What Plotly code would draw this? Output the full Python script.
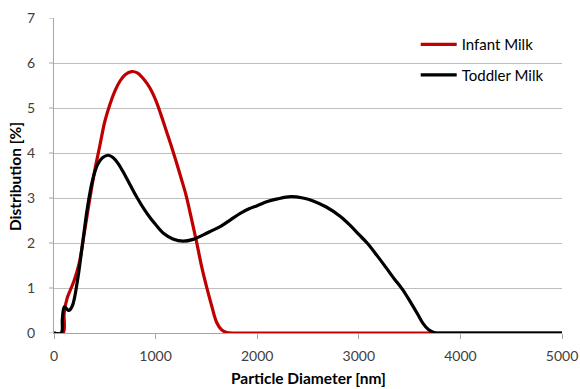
import plotly.graph_objects as go

infant_x = [0, 90, 100, 130, 160, 200, 250, 300, 350, 400, 450, 500, 550, 600, 650, 700, 764, 820, 880, 940, 1000, 1050, 1100, 1150, 1200, 1250, 1300, 1350, 1400, 1450, 1500, 1550, 1600, 1650, 1700, 1750, 2000, 3000, 4000, 5000]
infant_y = [0, 0, 0.45, 0.78, 0.95, 1.18, 1.57, 2.25, 2.95, 3.6, 4.15, 4.7, 5.08, 5.38, 5.6, 5.74, 5.81, 5.78, 5.65, 5.46, 5.18, 4.87, 4.53, 4.19, 3.83, 3.45, 3.06, 2.57, 2.06, 1.51, 1.04, 0.62, 0.24, 0.07, 0.01, 0, 0, 0, 0, 0]

toddler_x = [0, 72, 82, 100, 120, 145, 180, 230, 280, 330, 380, 430, 480, 534, 580, 630, 700, 757, 820, 890, 950, 1000, 1080, 1170, 1270, 1370, 1470, 1560, 1640, 1740, 1833, 1920, 2000, 2100, 2200, 2328, 2450, 2557, 2680, 2819, 2920, 3000, 3082, 3180, 3279, 3350, 3426, 3500, 3574, 3630, 3688, 3740, 3766, 4000, 4500, 5000]
toddler_y = [0, 0, 0.3, 0.58, 0.55, 0.5, 0.6, 1.15, 1.97, 2.8, 3.4, 3.75, 3.9, 3.95, 3.9, 3.77, 3.5, 3.26, 3.0, 2.74, 2.55, 2.41, 2.21, 2.09, 2.04, 2.08, 2.18, 2.28, 2.37, 2.52, 2.66, 2.76, 2.83, 2.92, 2.98, 3.03, 3.0, 2.93, 2.8, 2.59, 2.38, 2.19, 2.0, 1.72, 1.42, 1.2, 0.98, 0.72, 0.44, 0.22, 0.07, 0.01, 0, 0, 0, 0]

x_ticks = [0, 1000, 2000, 3000, 4000, 5000]
y_ticks = [0, 1, 2, 3, 4, 5, 6, 7]

fig = go.Figure()
fig.add_trace(go.Scatter(x=infant_x, y=infant_y, mode="lines", name="Infant Milk", legendgroup="a",
                         line=dict(color="#C00000", width=3.2, shape="spline", smoothing=1.0)))
fig.add_trace(go.Scatter(x=toddler_x, y=toddler_y, mode="lines", name="Toddler Milk", legendgroup="b",
                         line=dict(color="#000000", width=3.2, shape="spline", smoothing=1.0)))

# short visible tick marks on the y axis (major ticks are made long and transparent to push labels left)
for v in y_ticks:
    fig.add_shape(type="line", xref="paper", yref="y", x0=-0.0098, x1=0, y0=v, y1=v,
                  line=dict(color="#a6a6a6", width=1), layer="above")

font_family = "Lato, 'Open Sans', sans-serif"
fig.update_layout(
    width=580, height=389,
    margin=dict(l=54, r=18, t=18, b=56, autoexpand=False),
    plot_bgcolor="white", paper_bgcolor="white",
    font=dict(family=font_family, size=14, color="#404040"),
    showlegend=True,
    legend=dict(x=0.712, y=0.968, xanchor="left", yanchor="top",
                bgcolor="rgba(0,0,0,0)", font=dict(size=15, color="#000000"),
                tracegroupgap=8, itemwidth=36),
    xaxis=dict(range=[0, 5000], tickvals=x_ticks, showgrid=False, automargin=False,
               showline=True, linecolor="#a6a6a6", linewidth=1,
               ticks="outside", ticklen=5, tickcolor="#a6a6a6", zeroline=False,
               ticklabelstandoff=5,
               tickfont=dict(size=14, color="#404040")),
    yaxis=dict(range=[0, 7], tickvals=y_ticks, showgrid=True,
               gridcolor="#bfbfbf", gridwidth=1,
               showline=True, linecolor="#a6a6a6", linewidth=1, automargin=False,
               ticks="outside", ticklen=15, tickcolor="rgba(0,0,0,0)", zeroline=False,
               tickfont=dict(size=14, color="#404040")),
    annotations=[
        dict(text="<b>Particle Diameter [nm]</b>", xref="paper", yref="paper",
             x=0.5, y=-0.142, xanchor="center", yanchor="middle", showarrow=False,
             font=dict(size=15.5, color="#000000")),
        dict(text="<b>Distribution [%]</b>", xref="paper", yref="paper",
             x=-0.0768, y=0.498, xanchor="center", yanchor="middle", showarrow=False,
             textangle=-90, font=dict(size=15.5, color="#000000")),
    ],
)

fig.write_html("out.html")
